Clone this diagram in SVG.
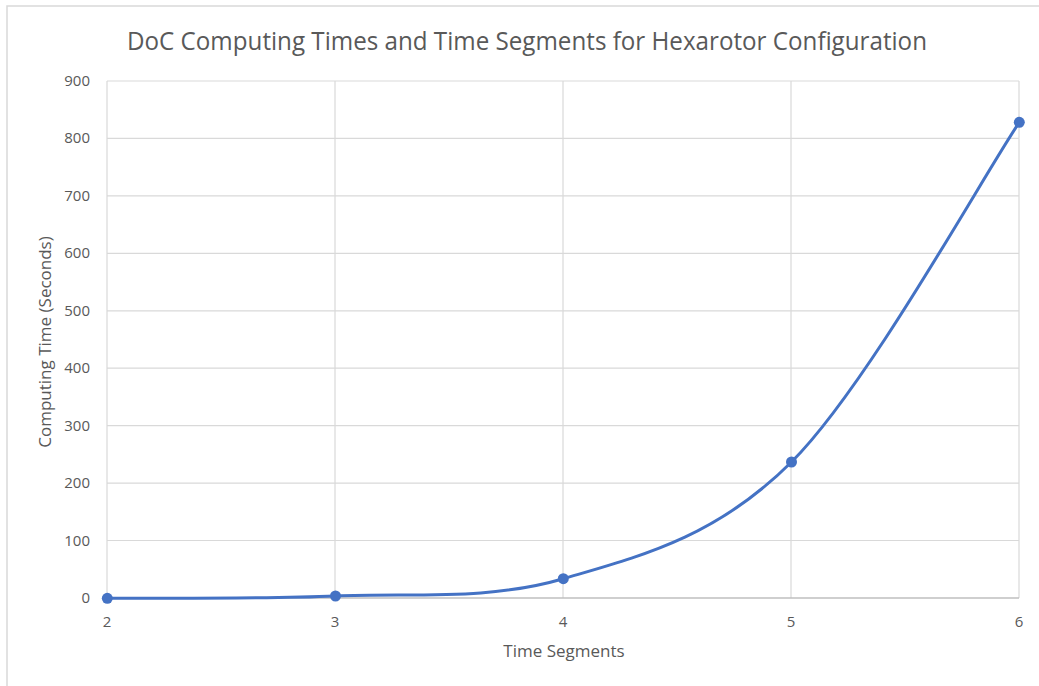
<svg xmlns="http://www.w3.org/2000/svg" width="1039" height="686" viewBox="0 0 1039 686">
  <style>
    .frame { fill: #ffffff; stroke: #d9d9d9; stroke-width: 1.5; }
    .grid { stroke: #d9d9d9; stroke-width: 1.2; fill: none; }
    .axis { stroke: #bfbfbf; stroke-width: 1.5; fill: none; }
    .lbl { font-family: "Open Sans", "Liberation Sans", sans-serif; fill: #595959; }
    .tick { font-size: 15px; }
    .ttl { font-size: 17px; }
    .series { stroke: #4472c4; stroke-width: 3; fill: none; stroke-linejoin: round; stroke-linecap: round; }
    .pt { fill: #4472c4; }
  </style>

  <!-- chart frame -->
  <rect class="frame" x="7" y="6" width="1100" height="800"/>

  <!-- title -->
  <text class="lbl" x="527" y="50" font-size="25" text-anchor="middle" textLength="800" lengthAdjust="spacingAndGlyphs">DoC Computing Times and Time Segments for Hexarotor Configuration</text>

  <!-- gridlines -->
  <g id="gridlines">
    <path class="grid" d="M107 81H1019 M107 138.4H1019 M107 195.9H1019 M107 253.3H1019 M107 310.8H1019 M107 368.2H1019 M107 425.6H1019 M107 483.1H1019 M107 540.5H1019"/>
    <path class="grid" d="M107 81V598 M335 81V598 M563 81V598 M791 81V598 M1019 81V598"/>
    <path class="axis" d="M107 598H1019"/>
  </g>

  <!-- y tick labels -->
  <g id="y-ticks" class="lbl tick" text-anchor="end">
    <text x="90" y="86">900</text>
    <text x="90" y="143.4">800</text>
    <text x="90" y="200.9">700</text>
    <text x="90" y="258.3">600</text>
    <text x="90" y="315.8">500</text>
    <text x="90" y="373.2">400</text>
    <text x="90" y="430.6">300</text>
    <text x="90" y="488.1">200</text>
    <text x="90" y="545.5">100</text>
    <text x="90" y="603">0</text>
  </g>

  <!-- x tick labels -->
  <g id="x-ticks" class="lbl tick" text-anchor="middle">
    <text x="107" y="627">2</text>
    <text x="335" y="627">3</text>
    <text x="563" y="627">4</text>
    <text x="791" y="627">5</text>
    <text x="1019" y="627">6</text>
  </g>

  <!-- axis titles -->
  <text class="lbl ttl" x="564" y="657" text-anchor="middle">Time Segments</text>
  <text class="lbl ttl" transform="translate(51 342) rotate(-90)" text-anchor="middle">Computing Time (Seconds)</text>

  <!-- series -->
  <g id="connectors">
    <path class="series" d="M107.3 598.3 C145.3 597.9 259.5 599.3 335.5 596 C411.5 592.7 487.3 601 563.3 578.7 C639.3 556.4 715.5 538.1 791.5 462 C867.5 385.9 981.3 178.9 1019.3 122.3"/>
  </g>
  <g id="p2"><circle class="pt" cx="107.3" cy="598.3" r="5.5"/></g>
  <g id="p3"><circle class="pt" cx="335.5" cy="596" r="5.5"/></g>
  <g id="p4"><circle class="pt" cx="563.3" cy="578.7" r="5.5"/></g>
  <g id="p5"><circle class="pt" cx="791.5" cy="462" r="5.5"/></g>
  <g id="p6"><circle class="pt" cx="1019.3" cy="122.3" r="5.5"/></g>
</svg>
